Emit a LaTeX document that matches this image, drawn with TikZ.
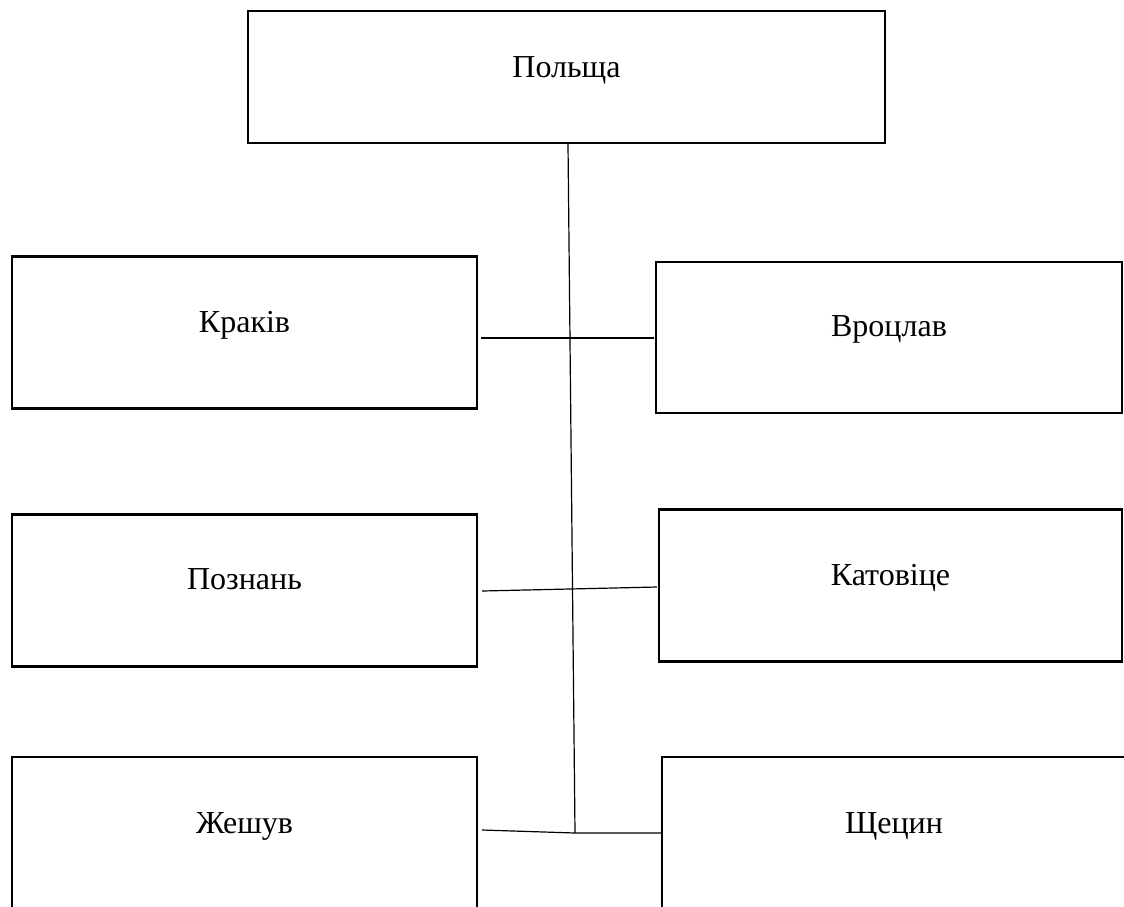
\documentclass[tikz,border=0pt]{standalone}
\usepackage{fontspec}
\setmainfont{Liberation Serif}
\begin{document}
\begin{tikzpicture}[x=1pt,y=-1pt,
  box/.style={draw=black, line width=2.3pt, rectangle, inner sep=0pt, fill=white},
  lbl/.style={anchor=base, inner sep=0pt, font=\fontsize{32}{38}\selectfont},
  conn/.style={draw=black, line width=1.2pt}]
\useasboundingbox (0,0) rectangle (1124,906);
\fill[white] (0,0) rectangle (1124,906);
\begin{scope}
\clip (0,0) rectangle (1124,906);
\node[box, minimum width=637pt, minimum height=132pt] (pol)  at (566.5,77) {};
\node[box, minimum width=465pt, minimum height=152pt] (krak) at (244.5,332.5) {};
\node[box, minimum width=466pt, minimum height=151pt] (wroc) at (889,337.5) {};
\node[box, minimum width=465pt, minimum height=152pt] (pozn) at (244.5,590.5) {};
\node[box, minimum width=463pt, minimum height=152pt] (kato) at (890.5,585.5) {};
\node[box, minimum width=465pt, minimum height=152pt] (zhes) at (244.5,833) {};
\node[box, minimum width=464pt, minimum height=152pt] (shch) at (894,833) {};

\node[lbl] (tpol)  at (pol.center)  {Польща};
\node[lbl] (tkrak) at (krak.center) {Краків};
\node[lbl] (twroc) at ([yshift=1pt]wroc.center) {Вроцлав};
\node[lbl] (tpozn) at ([yshift=1pt]pozn.center) {Познань};
\node[lbl] (tkato) at (kato.center) {Катовіце};
\node[lbl] (tzhes) at (zhes.center) {Жешув};
\node[lbl] (tshch) at (shch.center) {Щецин};

\coordinate (hub) at (575,833);
\draw[conn] ([xshift=1.5pt]pol.south) -- (hub);
\draw[conn] ([shift={(3,5.5)}]krak.east) -- ([shift={(-1,0.5)}]wroc.west);
\draw[conn] ([shift={(4,0.5)}]pozn.east) -- ([shift={(-1,1.5)}]kato.west);
\draw[conn] ([shift={(4,-3)}]zhes.east) -- (hub) -- (shch.west);
\end{scope}
\end{tikzpicture}
\end{document}
